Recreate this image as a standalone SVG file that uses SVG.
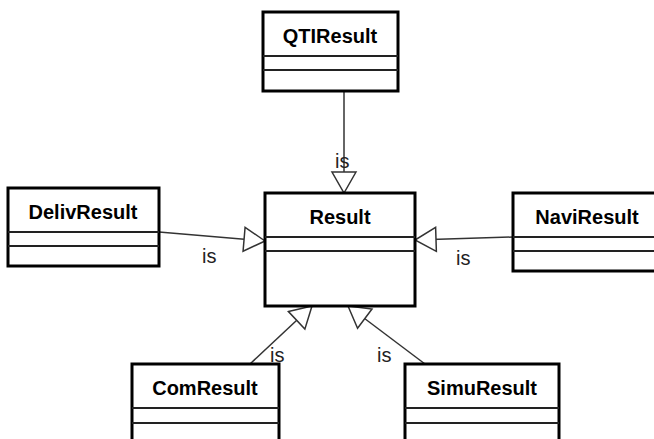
<svg xmlns="http://www.w3.org/2000/svg" width="654" height="439" viewBox="0 0 654 439">
<style>
.box{fill:#fff;stroke:#000;stroke-width:3}
.div{stroke:#222;stroke-width:2}
.name{font-family:"Liberation Sans",Arial,sans-serif;font-weight:bold;font-size:20px;fill:#000;text-anchor:middle}
.conn{stroke:#333;stroke-width:1.5;fill:none;marker-end:url(#tri)}
.lbl{font-family:"Liberation Sans",Arial,sans-serif;font-size:20px;fill:#222}
</style>
<defs>
<marker id="tri" markerUnits="userSpaceOnUse" markerWidth="26" markerHeight="28" refX="22" refY="13" orient="auto" overflow="visible">
<path d="M1,1 L22,13 L1,25 Z" fill="#fff" stroke="#333" stroke-width="1.5"/>
</marker>
</defs>
<rect width="654" height="439" fill="#fff"/>
<g id="connectors">
<line class="conn" x1="344" y1="91" x2="344" y2="193"/>
<line class="conn" x1="159" y1="232" x2="265" y2="241"/>
<line class="conn" x1="513" y1="237" x2="415" y2="240"/>
<line class="conn" x1="250" y1="364" x2="312" y2="306"/>
<line class="conn" x1="425" y1="364" x2="348" y2="306"/>
<text class="lbl" x="335" y="168">is</text>
<text class="lbl" x="202" y="263">is</text>
<text class="lbl" x="456" y="265">is</text>
<text class="lbl" x="270" y="362">is</text>
<text class="lbl" x="377" y="362">is</text>
</g>
<g id="QTIResult">
<rect class="box" x="263" y="12" width="135" height="79"/>
<line class="div" x1="263" y1="56" x2="398" y2="56"/>
<line class="div" x1="263" y1="70" x2="398" y2="70"/>
<text class="name" x="330" y="43">QTIResult</text>
</g>
<g id="Result">
<rect class="box" x="265" y="193" width="150" height="113"/>
<line class="div" x1="265" y1="237" x2="415" y2="237"/>
<line class="div" x1="265" y1="251" x2="415" y2="251"/>
<text class="name" x="340" y="224">Result</text>
</g>
<g id="DelivResult">
<rect class="box" x="8" y="188" width="151" height="78"/>
<line class="div" x1="8" y1="232" x2="159" y2="232"/>
<line class="div" x1="8" y1="246" x2="159" y2="246"/>
<text class="name" x="83" y="219">DelivResult</text>
</g>
<g id="NaviResult">
<rect class="box" x="513" y="193" width="145" height="78"/>
<line class="div" x1="513" y1="237" x2="658" y2="237"/>
<line class="div" x1="513" y1="251" x2="658" y2="251"/>
<text class="name" x="587" y="224">NaviResult</text>
</g>
<g id="ComResult">
<rect class="box" x="132" y="364" width="147" height="90"/>
<line class="div" x1="132" y1="408" x2="279" y2="408"/>
<line class="div" x1="132" y1="423" x2="279" y2="423"/>
<text class="name" x="205" y="395">ComResult</text>
</g>
<g id="SimuResult">
<rect class="box" x="405" y="364" width="154" height="90"/>
<line class="div" x1="405" y1="408" x2="559" y2="408"/>
<line class="div" x1="405" y1="423" x2="559" y2="423"/>
<text class="name" x="482" y="395">SimuResult</text>
</g>
</svg>
